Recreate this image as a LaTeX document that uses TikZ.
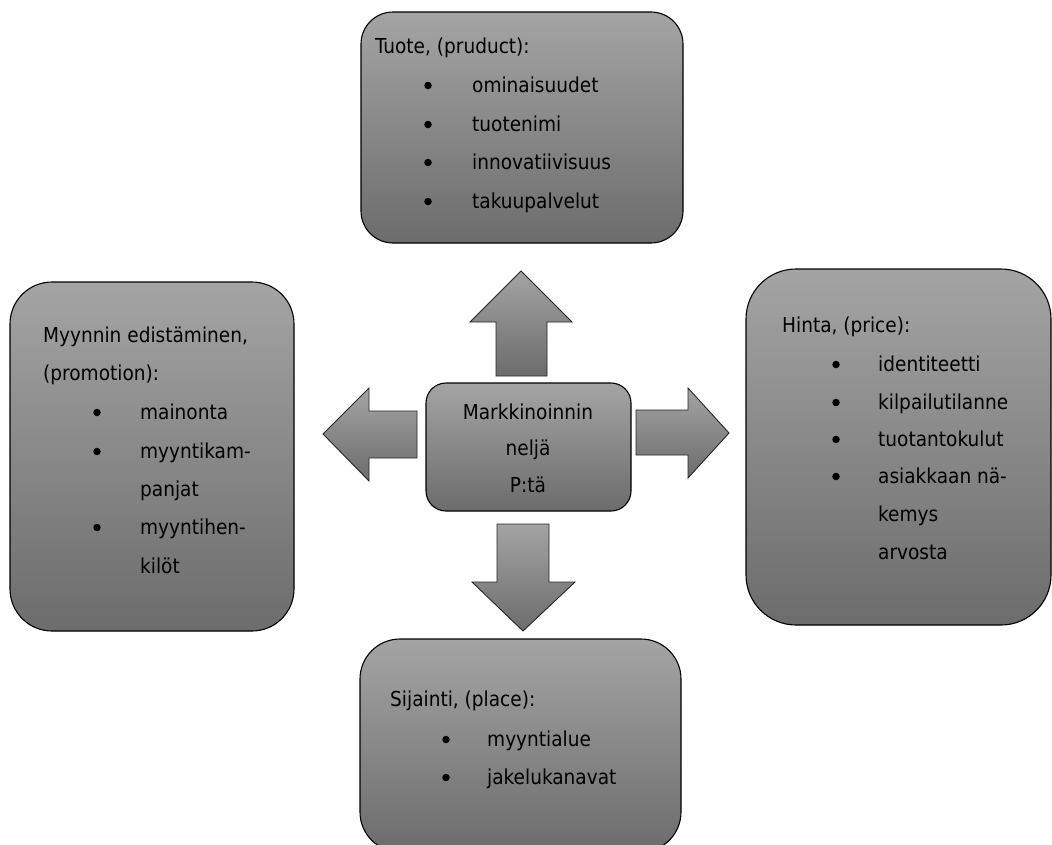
\documentclass[tikz,border=0pt]{standalone}
\usepackage{fontspec}
\setmainfont{DejaVu Sans Condensed}
\definecolor{gtop}{RGB}{164,164,164}
\definecolor{gbot}{RGB}{108,108,108}
\tikzset{
  box/.style={draw=black, line width=1.1pt, top color=gtop, bottom color=gbot, rectangle, inner sep=0pt},
  arr/.style={draw=black!85, line width=0.9pt, top color=gtop, bottom color=gbot},
  txt/.style={anchor=base west, inner sep=0pt, font=\fontsize{20.6}{24}\selectfont},
  bul/.style={circle, fill=black, inner sep=0pt, minimum size=7.5pt, yshift=6.5pt},
  ctxt/.style={anchor=base, inner sep=0pt, font=\fontsize{20.6}{24}\selectfont},
}
\begin{document}
\begin{tikzpicture}[x=1pt,y=1pt]
\path[use as bounding box] (0,0) rectangle (1052,-844);
\clip (0,0) rectangle (1052,-844);
% boxes
\node[box, minimum width=322pt, minimum height=231pt, rounded corners=32pt] (tuote) at (522,-127.5) {};
\node[box, minimum width=284pt, minimum height=349pt, rounded corners=42pt] (promo) at (152,-456.5) {};
\node[box, minimum width=305pt, minimum height=356pt, rounded corners=50pt] (hinta) at (898.5,-447) {};
\node[box, minimum width=321pt, minimum height=213pt, rounded corners=40pt] (place) at (520.5,-745.5) {};
\node[box, minimum width=205pt, minimum height=128pt, rounded corners=20pt] (core) at (528.5,-447) {};
% arrows
\path[arr] (496,-376) -- (496,-322) -- (470,-322) -- (521,-271) -- (572,-322) -- (547,-322) -- (547,-376) -- cycle;
\path[arr] (417,-411) -- (369,-411) -- (369,-388) -- (323,-434) -- (369,-481) -- (369,-458) -- (417,-458) -- cycle;
\path[arr] (636,-410) -- (688,-410) -- (688,-388) -- (729,-433) -- (688,-478) -- (688,-455) -- (636,-455) -- cycle;
\path[arr] (497,-524) -- (549,-524) -- (549,-582) -- (575,-582) -- (523,-631) -- (472,-582) -- (497,-582) -- cycle;
% centre text
\node[ctxt] (c1) at (528,-419) {Markkinoinnin};
\node[ctxt] (c2) at (528,-455) {neljä};
\node[ctxt] (c3) at (528,-492) {P:tä};
% Tuote
\node[txt] (t0) at (375,-53) {Tuote, (pruduct):};
\node[bul] (tb1) at (428,-92) {};
\node[txt] (t1) at (472,-92) {ominaisuudet};
\node[bul] (tb2) at (428,-131) {};
\node[txt] (t2) at (472,-131) {tuotenimi};
\node[bul] (tb3) at (428,-169) {};
\node[txt] (t3) at (472,-169) {innovatiivisuus};
\node[bul] (tb4) at (428,-208) {};
\node[txt] (t4) at (472,-208) {takuupalvelut};
% Myynnin edistäminen
\node[txt] (m0) at (43,-342) {Myynnin edistäminen,};
\node[txt] (m0b) at (43,-380.5) {(promotion):};
\node[bul] (mb1) at (97,-419) {};
\node[txt] (m1) at (140,-419) {mainonta};
\node[bul] (mb2) at (97,-458) {};
\node[txt] (m2) at (140,-458) {myyntikam-};
\node[txt] (m2b) at (140,-496) {panjat};
\node[bul] (mb3) at (97,-534) {};
\node[txt] (m3) at (140,-534) {myyntihen-};
\node[txt] (m3b) at (140,-573) {kilöt};
% Hinta
\node[txt] (h0) at (782,-332) {Hinta, (price):};
\node[bul] (hb1) at (836,-371) {};
\node[txt] (h1) at (878,-371) {identiteetti};
\node[bul] (hb2) at (836,-409) {};
\node[txt] (h2) at (878,-409) {kilpailutilanne};
\node[bul] (hb3) at (836,-446) {};
\node[txt] (h3) at (878,-446) {tuotantokulut};
\node[bul] (hb4) at (836,-483) {};
\node[txt] (h4) at (878,-483) {asiakkaan nä-};
\node[txt] (h4b) at (878,-521) {kemys};
\node[txt] (h4c) at (878,-559) {arvosta};
% Sijainti
\node[txt] (s0) at (390,-706) {Sijainti, (place):};
\node[bul] (sb1) at (446,-746) {};
\node[txt] (s1) at (487,-746) {myyntialue};
\node[bul] (sb2) at (446,-784) {};
\node[txt] (s2) at (487,-784) {jakelukanavat};
\end{tikzpicture}
\end{document}
